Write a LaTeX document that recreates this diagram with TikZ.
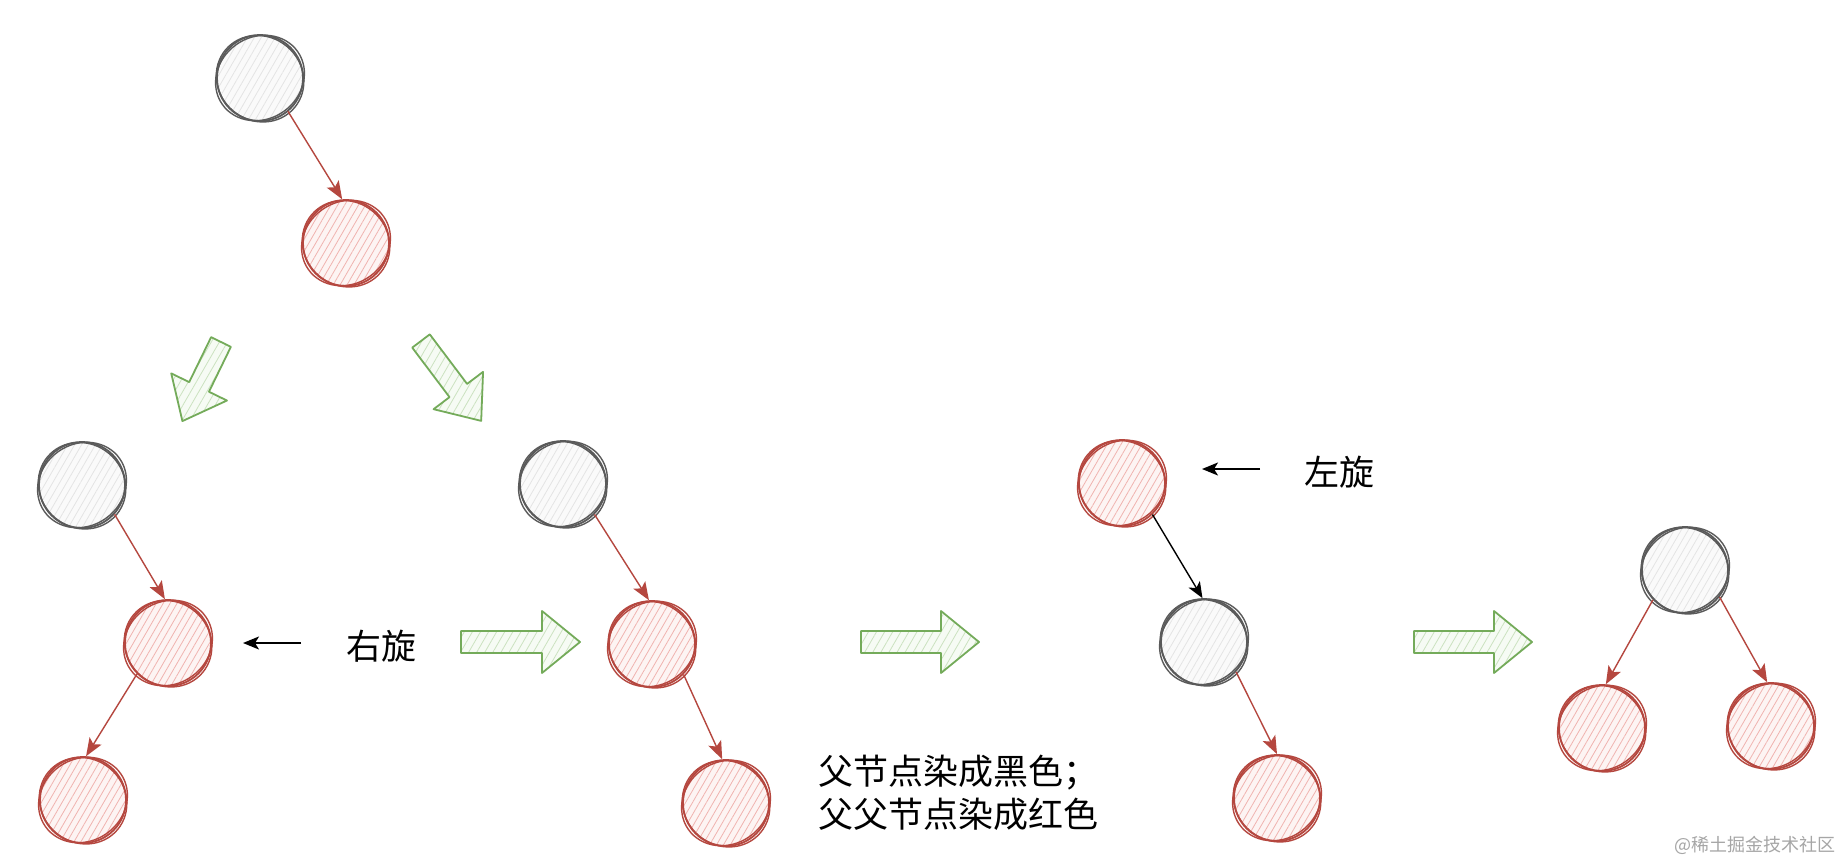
\documentclass[tikz,border=0pt]{standalone}
\usepackage{fontspec}
\setmainfont{Noto Sans CJK SC}
\usetikzlibrary{arrows.meta,patterns.meta}
\definecolor{rstroke}{HTML}{B5473F}
\definecolor{rhatch}{HTML}{F0B3AF}
\definecolor{rfill}{HTML}{FDF4F3}
\definecolor{kstroke}{HTML}{5A5A5A}
\definecolor{khatch}{HTML}{E4E4E4}
\definecolor{kfill}{HTML}{FAFAFA}
\definecolor{grnstroke}{HTML}{74AB5A}
\definecolor{grnhatch}{HTML}{CBE2C0}
\definecolor{grnfill}{HTML}{F6FBF4}
\tikzset{
  rn/.style={circle, minimum size=86pt, inner sep=0pt, draw=rstroke, line width=1.8pt,
    preaction={fill=rfill}, pattern={Lines[angle=60,distance=6pt,line width=0.8pt]}, pattern color=rhatch},
  bn/.style={circle, minimum size=86pt, inner sep=0pt, draw=kstroke, line width=1.8pt,
    preaction={fill=kfill}, pattern={Lines[angle=60,distance=6pt,line width=0.8pt]}, pattern color=khatch},
  rsk/.style={draw=rstroke, line width=1.4pt},
  bsk/.style={draw=kstroke, line width=1.4pt},
  redge/.style={draw=rstroke, line width=1.4pt, -{Stealth[length=18pt,width=14pt,inset=4pt]}},
  kedge/.style={draw=black, line width=1.6pt, -{Stealth[length=16pt,width=13pt,inset=4pt]}},
  blk/.style={draw=grnstroke, line width=1.8pt, line join=round,
    preaction={fill=grnfill}, pattern={Lines[angle=60,distance=7pt,line width=0.8pt]}, pattern color=grnhatch},
  lbl/.style={font=\fontsize{35}{43}\selectfont, inner sep=0pt, text=black},
  wmark/.style={font=\fontsize{18}{20}\selectfont, inner sep=0pt, text=black!35},
}
\newcommand\garrow[4]{%
  \draw[blk, shift={(#1,#2)}, rotate=#3] (0,11) -- ({#4-38},11) -- ({#4-38},31) -- (#4,0)
    -- ({#4-38},-31) -- ({#4-38},-11) -- (0,-11) -- cycle;}
\newcommand\rough[2]{%
  \draw[#2, rotate around={35:(#1.center)}] (#1.center) ellipse (46pt and 41pt);
  \draw[#2, rotate around={-40:(#1.center)}] ([shift={(0.5,0.5)}]#1.center) ellipse (45pt and 42pt);}
\begin{document}
\begin{tikzpicture}[x=1pt,y=-1pt]
\fill[white] (0,0) rectangle (1842,862);
\useasboundingbox (0,0) rectangle (1842,862);

% top tree
\node[bn] (a0) at (260,78) {};
\node[rn] (a1) at (346,243) {};
\rough{a0}{bsk}\rough{a1}{rsk}
\draw[redge] (a0.-50) -- (a1.95);

% down green arrows
\garrow{221}{342}{-116}{88}
\garrow{421}{341}{-53}{100}

% left tree
\node[bn] (b0) at (82,485) {};
\node[rn] (b1) at (168,643) {};
\node[rn] (b2) at (83,800) {};
\rough{b0}{bsk}\rough{b1}{rsk}\rough{b2}{rsk}
\draw[redge] (b0.-42) -- (b1.94);
\draw[redge] (b1.-135) -- (b2.86);
\coordinate (p1s) at (301,643);
\coordinate (p1e) at (243,643);
\draw[kedge] (p1s) -- (p1e);
\node[lbl] (t1) at (381,646) {右旋};

\garrow{461}{642}{0}{119}

% middle tree
\node[bn] (c0) at (563,484) {};
\node[rn] (c1) at (652,644) {};
\node[rn] (c2) at (726,803) {};
\rough{c0}{bsk}\rough{c1}{rsk}\rough{c2}{rsk}
\draw[redge] (c0.-44) -- (c1.94);
\draw[redge] (c1.-44) -- (c2.95);
\node[lbl, anchor=west, align=left] (t3) at (818,793) {父节点染成黑色；\\父父节点染成红色};

\garrow{861}{642}{0}{118}

% recoloured tree
\node[rn] (d0) at (1122,483) {};
\node[bn] (d1) at (1204,642) {};
\node[rn] (d2) at (1277,798) {};
\rough{d0}{rsk}\rough{d1}{bsk}\rough{d2}{rsk}
\draw[kedge, line width=1.4pt] (d0.-46) -- (d1.92);
\draw[redge] (d1.-43) -- (d2.90);
\coordinate (p2s) at (1260,469);
\coordinate (p2e) at (1202,469);
\draw[kedge] (p2s) -- (p2e);
\node[lbl] (t2) at (1339,472) {左旋};

\garrow{1414}{642}{0}{118}

% final tree
\node[bn] (e0) at (1685,570) {};
\node[rn] (e1) at (1602,728) {};
\node[rn] (e2) at (1771,726) {};
\rough{e0}{bsk}\rough{e1}{rsk}\rough{e2}{rsk}
\draw[redge] (e0.-137) -- (e1.85);
\draw[redge] (e0.-38) -- (e2.95);

\node[wmark, anchor=east] (wm) at (1836,845) {@稀土掘金技术社区};
\end{tikzpicture}
\end{document}
